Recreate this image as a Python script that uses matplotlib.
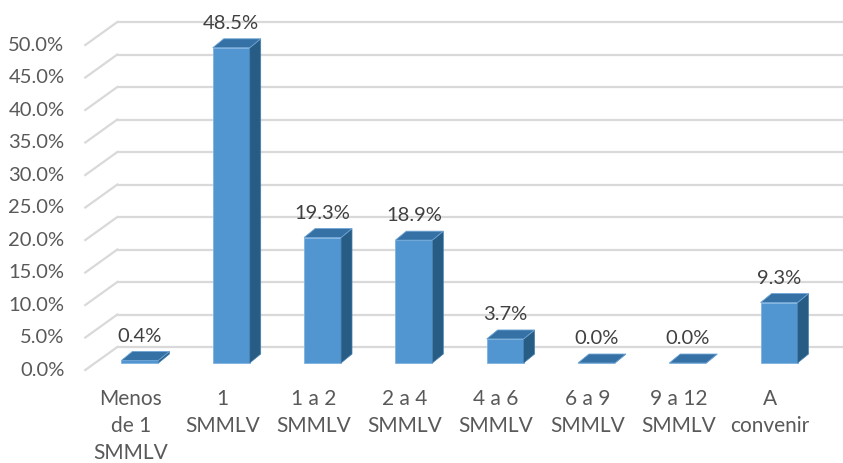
import matplotlib.pyplot as plt
from matplotlib.patches import Polygon
import numpy as np

plt.rcParams['font.family'] = ['Lato', 'DejaVu Sans']

# data
categories = ["Menos\nde 1\nSMMLV", "1\nSMMLV", "1 a 2\nSMMLV", "2 a 4\nSMMLV",
              "4 a 6\nSMMLV", "6 a 9\nSMMLV", "9 a 12\nSMMLV", "A\nconvenir"]
values = [0.4, 48.5, 19.3, 18.9, 3.7, 0.0, 0.0, 9.3]
ticks = [0, 5, 10, 15, 20, 25, 30, 35, 40, 45, 50]

# colours
front_col = "#5195d1"
side_col = "#275d85"
top_col = "#3571a4"
grid_col = "#d9d9d9"
text_col = "#595959"

# fake 3d offsets (data units)
w = 0.405          # bar width
ddx, ddy = 0.12, 1.38      # bar depth
wdx, wdy = 0.252, 2.46     # back wall vs bar front
ldx, ldy = -0.099, -1.08   # label plane vs bar front

fig = plt.figure(figsize=(8.43, 4.63), dpi=100)
ax = fig.add_axes([0, 0, 1, 1])
ax.set_xlim(-1.533, 7.70)
ax.set_ylim(-15.385, 55.846)
ax.axis('off')

# back wall gridlines + left wall diagonals
for t in ticks:
    ax.plot([-0.5 + wdx, 8.0], [t + wdy, t + wdy], color=grid_col, lw=1.6, zorder=1,
            solid_capstyle='butt')
    ax.plot([-0.5 + ldx, -0.5 + wdx], [t + ldy, t + wdy], color=grid_col, lw=1.6, zorder=1)
    ax.annotate("%.1f%%" % t, (-0.5 + ldx, t + ldy), xytext=(-15, 0),
                textcoords='offset points', ha='right', va='center',
                fontsize=14.5, color=text_col)

x = np.arange(len(values))
ax.bar(x, values, width=w, color=front_col, edgecolor="#7fb2e0", lw=0.6, zorder=3)

for xi, v in zip(x, values):
    side = [(xi + w / 2, 0), (xi + w / 2 + ddx, ddy), (xi + w / 2 + ddx, v + ddy), (xi + w / 2, v)]
    top = [(xi - w / 2, v), (xi + w / 2, v), (xi + w / 2 + ddx, v + ddy), (xi - w / 2 + ddx, v + ddy)]
    ax.add_patch(Polygon(side, closed=True, facecolor=side_col, edgecolor="#4a82b3", lw=0.5, zorder=3))
    ax.add_patch(Polygon(top, closed=True, facecolor=top_col, edgecolor="#6fa5d6", lw=0.6, zorder=4))
    ax.annotate("%.1f%%" % v, (xi, v + ddy), xytext=(0, 11), textcoords='offset points',
                ha='center', va='center', fontsize=14.5, color="#404040", zorder=5)

for xi, lab in zip(x, categories):
    ax.annotate(lab, (xi + ldx, ldy), xytext=(0, -14), textcoords='offset points',
                ha='center', va='top', fontsize=15, color=text_col, linespacing=1.42)

fig.savefig("out.png", dpi=100)
